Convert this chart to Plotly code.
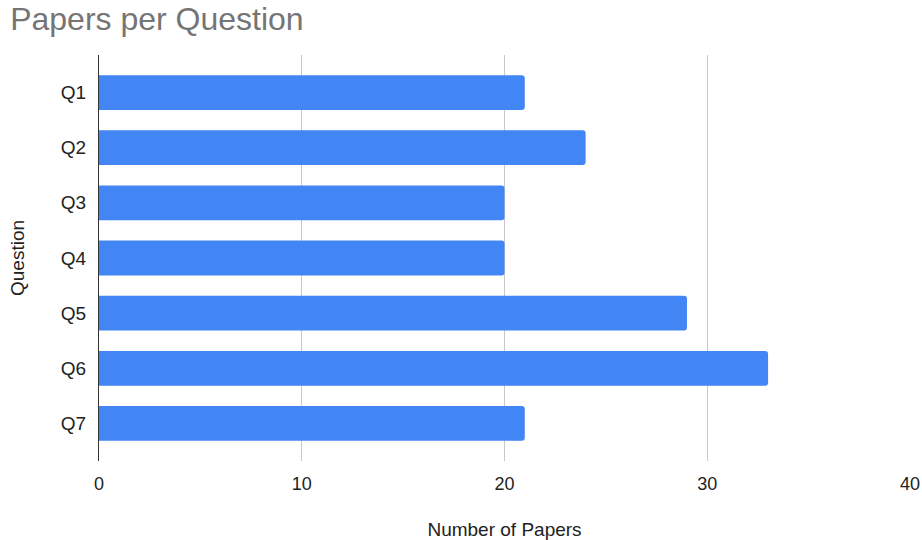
import plotly.graph_objects as go

# Papers counted per research question
questions = ["Q1", "Q2", "Q3", "Q4", "Q5", "Q6", "Q7"]
papers = [21, 24, 20, 20, 29, 33, 21]
x_ticks = [0, 10, 20, 30, 40]

FONT = "Liberation Sans, Arial, sans-serif"

fig = go.Figure(
    go.Bar(
        x=papers,
        y=questions,
        orientation="h",
        marker=dict(color="#4285f4", line=dict(width=0)),
        hoverinfo="x+y",
    )
)

fig.update_layout(
    width=922,
    height=540,
    margin=dict(l=99, r=12, t=55, b=79),
    paper_bgcolor="white",
    plot_bgcolor="white",
    bargap=0.37,
    barcornerradius=3,
    showlegend=False,
    font=dict(family=FONT, color="#222222"),
    title=dict(
        text="Papers per Question",
        x=0.011,
        xanchor="left",
        y=0.965,
        yanchor="middle",
        font=dict(family=FONT, size=32, color="#757575"),
    ),
)

fig.update_xaxes(
    range=[0, 40],
    tickvals=x_ticks,
    ticktext=[str(v) for v in x_ticks],
    showgrid=True,
    gridcolor="#c8c8c8",
    gridwidth=1,
    zeroline=False,
    showline=False,
    ticks="",
    automargin=False,
    tickfont=dict(size=18, color="#222222"),
    ticklabelstandoff=10,
    title=dict(text="Number of Papers", font=dict(size=19, color="#222222"), standoff=34),
    fixedrange=True,
)

fig.update_yaxes(
    type="category",
    categoryorder="array",
    categoryarray=questions,
    range=[6.68, -0.68],
    showgrid=False,
    zeroline=False,
    showline=True,
    linecolor="#333333",
    linewidth=1,
    ticks="",
    automargin=False,
    tickfont=dict(size=19, color="#222222"),
    ticklabelstandoff=8,
    title=dict(text="Question", font=dict(size=19, color="#222222"), standoff=31),
    fixedrange=True,
)

fig.write_html("out.html", config={"displayModeBar": False})
